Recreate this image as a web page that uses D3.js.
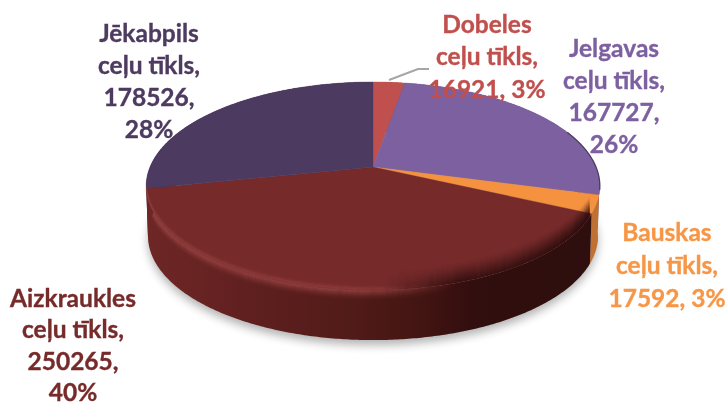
<!DOCTYPE html>
<html><head><meta charset="utf-8">
<script src="https://cdn.jsdelivr.net/npm/d3@7/dist/d3.min.js"></script>
<style>html,body{margin:0;padding:0;background:#fff}svg{display:block}</style>
</head><body><svg id="c" width="726" height="406"></svg>
<script>
const categories = ["Dobeles","Jelgavas","Bauskas","Aizkraukles","Jēkabpils"];
const values = [16921,167727,17592,250265,178526];
const percents = ["3%","26%","3%","40%","28%"];
const topColors = ["#c0504d","#7d60a0","#f59240","#772a2a","#4d3a60"];
const textColors = ["#c0504d","#7d60a0","#f79646","#772a2a","#4d3a60"];
const wallColors = ["#8a3836","#4c3a64","#c07030","#551b1b","#33263f"];
const labelLines = [
  ["Dobeles","ceļu tīkls,","16921, 3%"],
  ["Jelgavas","ceļu tīkls,","167727,","26%"],
  ["Bauskas","ceļu tīkls,","17592, 3%"],
  ["Aizkraukles","ceļu tīkls,","250265,","40%"],
  ["Jēkabpils","ceļu tīkls,","178526,","28%"]
];
const labelPos = [[487,24,32.5],[614,48.4,32],[667,232.4,33],[73,298,31.5],[149,33.4,32]];

const svg = d3.select("#c");
const cx=373, cy=167, k=223, persp=-0.183, ya=70, depth=50;
const project=(a,drop=0)=>{
  const u=Math.sin(a), v=-Math.cos(a), d=1+persp*v;
  const w=1-0.008*Math.max(drop,0)/depth;
  return [cx+w*k*u/d, (ya*v+cy)/d+drop];
};
const pie=d3.pie().sort(null).startAngle(0).endAngle(2*Math.PI).value(d=>d);
const arcs=pie(values);
const line=d3.line();
const rim=(a0,a1,drop=0)=>{
  const n=Math.max(2,Math.ceil((a1-a0)/0.01));
  return d3.range(n+1).map(i=>project(a0+(a1-a0)*i/n,drop));
};
const defs=svg.append("defs");
const blur=(id,s)=>defs.append("filter").attr("id",id)
  .attr("x","-20%").attr("y","-20%").attr("width","140%").attr("height","140%")
  .append("feGaussianBlur").attr("stdDeviation",s);
blur("b6",5); blur("b1",0.5); blur("t",0.35);
const hgrad=(id,stops)=>{
  const g=defs.append("linearGradient").attr("id",id).attr("gradientUnits","userSpaceOnUse")
    .attr("x1",146).attr("x2",600).attr("y1",0).attr("y2",0);
  stops.forEach(s=>g.append("stop").attr("offset",s[0]).attr("stop-color",s[1]).attr("stop-opacity",s[2]===undefined?1:s[2]));
};
hgrad("wallMaroon",[[0,"#6e2626"],[0.12,"#682323"],[0.25,"#5e1f1f"],[0.45,"#511b18"],[0.6,"#431512"],[0.72,"#320e0e"],[1,"#2e0e0e"]]);
hgrad("light",[[0,"#94403f",1],[0.48,"#94403f",1],[0.6,"#94403f",0.35],[0.68,"#94403f",0]]);
hgrad("dark",[[0,"#2e0d0d",0],[0.52,"#2e0d0d",0],[0.68,"#2e0d0d",0.85],[1,"#2e0d0d",1]]);

// drop shadow under the base
svg.append("path").attr("d",line(rim(0,2*Math.PI,depth+5))+"Z")
  .attr("fill","#000").attr("opacity",0.3).attr("filter","url(#b6)");

const disc=defs.append("clipPath").attr("id","disc");
disc.append("path").attr("d",line(rim(0,2*Math.PI))+"Z");
const body=defs.append("clipPath").attr("id","body");
body.append("path").attr("d",line(rim(Math.PI*0.35,Math.PI*1.65).concat(rim(Math.PI*0.35,Math.PI*1.65,depth).reverse()))+"Z");

// walls, back to front
[4,0,1,2,3].forEach(i=>{
  const a=arcs[i];
  svg.append("path")
    .attr("d",line(rim(a.startAngle,a.endAngle).concat(rim(a.startAngle,a.endAngle,depth).reverse()))+"Z")
    .attr("fill",i===3?"url(#wallMaroon)":wallColors[i]);
});

const front=arcs[3];
// lit bevel on the wall, fading downward
const wallLight=svg.append("g").attr("clip-path","url(#body)");
d3.range(0,11).forEach(d=>{
  wallLight.append("path").attr("d",line(rim(front.startAngle+0.015,front.endAngle,d)))
    .attr("fill","none").attr("stroke","url(#light)").attr("stroke-width",1.4)
    .attr("stroke-opacity",Math.pow(1-d/11,2)*0.95);
});

// top faces
arcs.forEach((a,i)=>{
  const pts=[[cx,cy]].concat(rim(a.startAngle,a.endAngle));
  svg.append("path").attr("d",line(pts)+"Z").attr("fill",topColors[i])
    .attr("stroke",topColors[i]).attr("stroke-width",0.4);
});
// soft outer edge of the back rim
svg.append("path").attr("d",line(rim(Math.PI*0.38,Math.PI*0.57)))
  .attr("fill","none").attr("stroke","#3f3350").attr("stroke-width",1.3)
  .attr("opacity",0.8).attr("filter","url(#b1)");

// on the face: slight light next to the rim at left, dark melt at right
const faceShade=svg.append("g").attr("clip-path","url(#disc)");
d3.range(1,6).forEach(d=>{
  faceShade.append("path").attr("d",line(rim(front.startAngle+0.015,front.endAngle,-d)))
    .attr("fill","none").attr("stroke","url(#light)").attr("stroke-width",1.4)
    .attr("stroke-opacity",Math.pow(1-d/6,2)*0.8);
});
d3.range(0,22).forEach(d=>{
  faceShade.append("path").attr("d",line(rim(front.startAngle+0.03,front.endAngle,-d)))
    .attr("fill","none").attr("stroke","url(#dark)").attr("stroke-width",1.4)
    .attr("stroke-opacity",Math.pow(1-d/22,1.6)*0.95);
});

// leader line for Dobeles
const leader=[[389,80],[418,69],[429,69]];
svg.append("path").attr("d",line(leader)).attr("fill","none").attr("stroke","#a6a6a6").attr("stroke-width",2);

// labels
labelLines.forEach((ls,i)=>{
  const [x,y,lh]=labelPos[i];
  const t=svg.append("text").attr("text-anchor","middle")
    .attr("font-family","Lato, 'Open Sans', sans-serif").attr("font-weight",700)
    .attr("font-size",24.5).attr("fill",textColors[i]).attr("stroke",textColors[i])
    .attr("stroke-width",0.35).attr("filter","url(#t)");
  ls.forEach((s,j)=>t.append("tspan").attr("x",x).attr("y",y+j*lh).attr("dy","0.35em").text(s));
});
</script></body></html>
